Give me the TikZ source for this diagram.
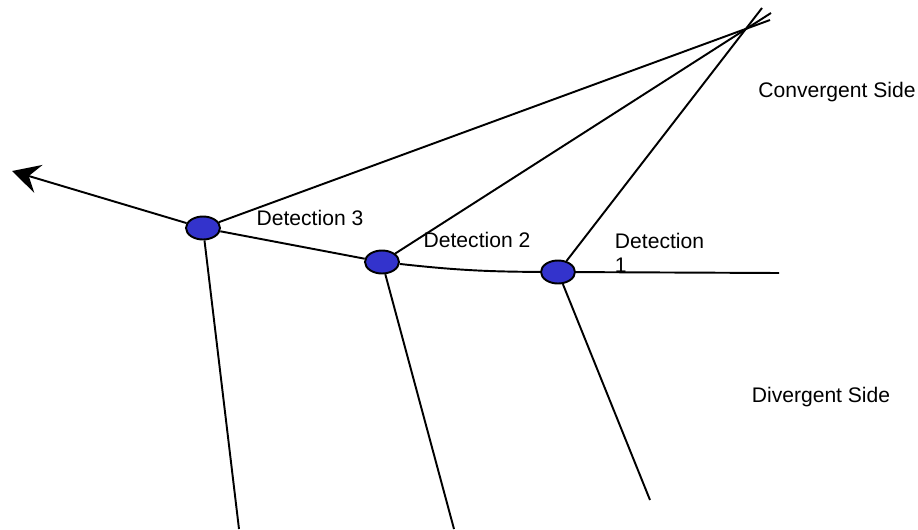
\documentclass[tikz,border=0pt]{standalone}
\usepackage{fontspec}
\setmainfont{Liberation Sans}
\usetikzlibrary{arrows.meta,shapes.geometric}
\begin{document}
\begin{tikzpicture}[line width=1.1pt, font=\fontsize{12}{13.5}\selectfont,
    det/.style={draw, ellipse, fill={rgb,255:red,51;green,51;blue,204}, minimum width=0.68cm, minimum height=0.46cm, inner sep=0pt},
    lbl/.style={inner sep=0pt}]

    \useasboundingbox (0,0) rectangle (18.36,10.58);

    \coordinate (arr) at (0.24,7.16);
    \coordinate (t3) at (15.40,10.18);
    \coordinate (t2) at (15.42,10.32);
    \coordinate (t1) at (15.24,10.42);
    \coordinate (r1) at (15.58,5.12);
    \coordinate (b3) at (4.78,0);
    \coordinate (b2) at (9.08,0);
    \coordinate (b1) at (13.00,0.58);

    \node[det] (d3) at (4.06,6.02) {};
    \node[det] (d2) at (7.64,5.34) {};
    \node[det] (d1) at (11.16,5.14) {};

    \draw[-{Stealth[length=0.55cm, width=0.58cm, inset=0.2cm]}] (d3) -- (arr);
    \draw (d3) -- (d2);
    \draw (d2) to[bend right=3] (d1);
    \draw (d1) -- (r1);

    \draw (d3) -- (t3);
    \draw (d2) -- (t2);
    \draw (d1) -- (t1);

    \draw (d3) -- (b3);
    \draw (d2) -- (b2);
    \draw (d1) -- (b1);

    \node[lbl] (l3) at (6.20,6.22) {Detection 3};
    \node[lbl] (l2) at (9.54,5.78) {Detection 2};
    \node[lbl, anchor=west, align=left] (l1) at (12.28,5.52) {Detection\\1};
    \node[lbl] (conv) at (16.74,8.74) {Convergent Side};
    \node[lbl] (div) at (16.42,2.64) {Divergent Side};

\end{tikzpicture}
\end{document}
